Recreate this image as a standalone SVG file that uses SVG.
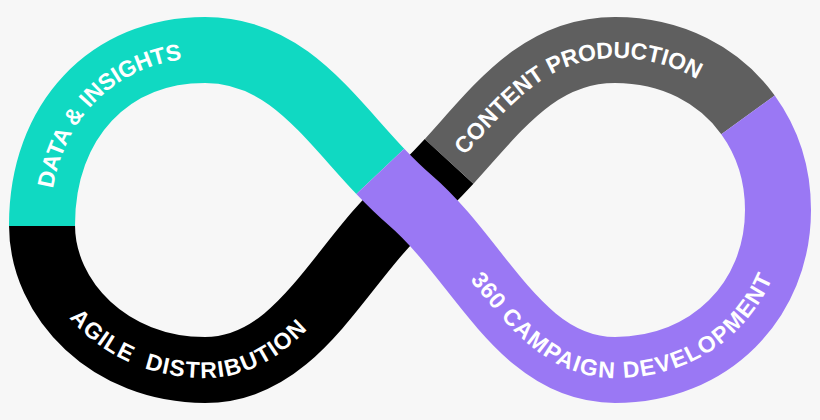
<svg xmlns="http://www.w3.org/2000/svg" width="820" height="420" viewBox="0 0 820 420">
<style>
.band{fill:none;stroke-width:66;stroke-linecap:butt}
.lbl{fill:#fff;font-family:"Liberation Sans",Arial,sans-serif;font-weight:bold;font-size:23px;letter-spacing:0.6px;white-space:pre}
</style>
<defs>
<path id="tDATA" d="M42,300 L42,225 C42,120 110,50 205,50 C285,50 327,115 380,171"/>
<path id="tCONT" d="M449,161 C498,107 539,50 615,50 C672,50 719,75 748,115 L770,145"/>
<path id="tCAMP" d="M410,200 C480,260 520,370 615,370 C710,370 778,300 778,210 C778,174 767,141 748,115"/>
<path id="tAGIL" d="M42,225 C42,300 110,370 205,370 C300,370 340,260 410,200"/>
</defs>
<rect width="820" height="420" fill="#f7f7f7"/>
<g id="connectors">
<path id="black" class="band" stroke="#000" d="M449.1,161.4 C436.8,174.8 424,188 410,200 C340,260 300,370 205,370 C110,370 42,300 42,225"/>
<path id="teal" class="band" stroke="#10d9c2" d="M42,226 L42,225 C42,120 110,50 205,50 C285.75,50 326.8,115 380.3,171.4"/>
<path id="gray" class="band" stroke="#5f5f5f" d="M748,114.8 C719.3,75.2 672,50 615,50 C539,50 498.2,107.6 449.1,161.4"/>
<path id="purple" class="band" stroke="#9a78f4" d="M380.3,171.4 C389.7,181.3 399.5,191 410,200 C480,260 520,370 615,370 C710,370 778,300 778,210 C778,174 767.1,141.2 748,114.8"/>
</g>
<g id="node-data"><text class="lbl" dy="8"><textPath href="#tDATA" startOffset="113">DATA &amp; INSIGHTS</textPath></text></g>
<g id="node-content"><text class="lbl" dy="8"><textPath href="#tCONT" startOffset="14">CONTENT PRODUCTION</textPath></text></g>
<g id="node-campaign"><text class="lbl" dy="8"><textPath href="#tCAMP" startOffset="100">360 CAMPAIGN DEVELOPMENT</textPath></text></g>
<g id="node-agile"><text class="lbl" dy="8"><textPath href="#tAGIL" startOffset="95">AGILE  DISTRIBUTION</textPath></text></g>
</svg>
